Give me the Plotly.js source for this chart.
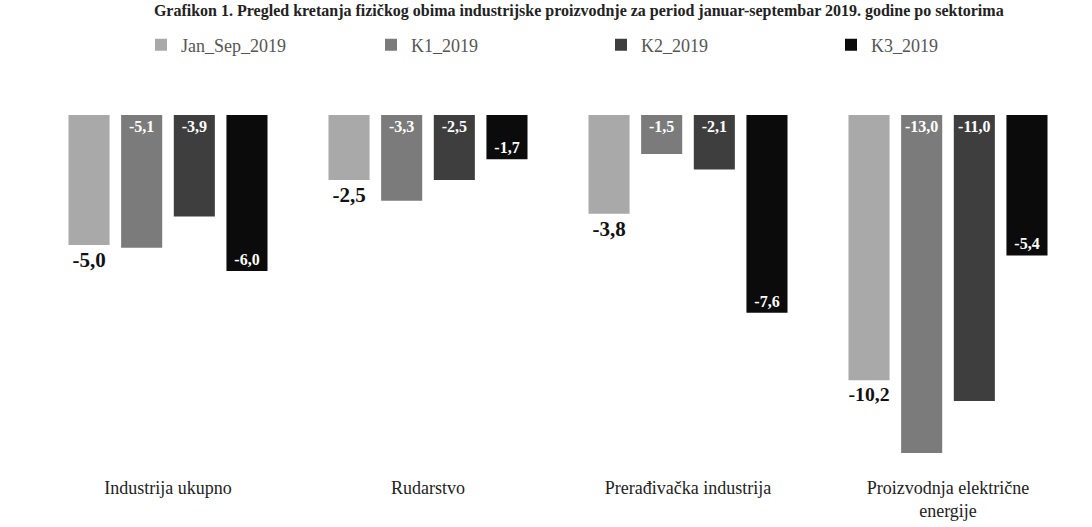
<!DOCTYPE html>
<html>
<head>
<meta charset="utf-8">
<script src="https://cdn.plot.ly/plotly-3.0.1.min.js"></script>
<style>html,body{margin:0;padding:0;background:#fff;}#chart{width:1092px;height:527px;}</style>
</head>
<body>
<div id="chart"></div>
<script>
const categories = ["Industrija ukupno", "Rudarstvo", "Prerađivačka industrija", "Proizvodnja električne<br>energije"];
const seriesNames = ["Jan_Sep_2019", "K1_2019", "K2_2019", "K3_2019"];
const janSep2019 = [-5.0, -2.5, -3.8, -10.2];
const k1_2019 = [-5.1, -3.3, -1.5, -13.0];
const k2_2019 = [-3.9, -2.5, -2.1, -11.0];
const k3_2019 = [-6.0, -1.7, -7.6, -5.4];
const titleText = "Grafikon 1. Pregled kretanja fizičkog obima industrijske proizvodnje za period januar-septembar 2019. godine po sektorima";

const serif = "Liberation Serif, Times New Roman, serif";
const colors = ["#a9a9a9", "#7b7b7b", "#3e3e3e", "#0b0b0b"];
const values = [janSep2019, k1_2019, k2_2019, k3_2019];
const textpos = ["outside", "inside", "inside", "inside"];
const anchors = ["end", "start", "start", "end"];
const textColors = ["#111", "#fff", "#fff", "#fff"];
const textSizes = [21, 16, 16, 16];

const traces = values.map((v, i) => ({
  type: "bar",
  name: seriesNames[i],
  x: categories,
  y: v,
  marker: {color: colors[i], line: {width: 0}},
  texttemplate: "%{y:.1f}",
  textposition: textpos[i],
  insidetextanchor: anchors[i],
  textangle: 0,
  cliponaxis: false,
  textfont: {family: serif, size: textSizes[i], color: textColors[i], weight: "bold"},
  hoverinfo: "x+y"
}));

const layout = {
  width: 1092, height: 527,
  paper_bgcolor: "#fff", plot_bgcolor: "#fff",
  separators: ",.",
  margin: {l: 38, r: 14, t: 115, b: 57, autoexpand: false},
  title: {text: "<b>" + titleText + "</b>", font: {family: serif, size: 16, color: "#222"},
          x: 0.53, xanchor: "center", yref: "container", y: 1 - 10 / 527, yanchor: "middle"},
  showlegend: true,
  legend: {orientation: "h", xref: "container", x: 141 / 1092, xanchor: "left",
           yref: "container", y: 1 - 45 / 527, yanchor: "middle",
           font: {family: serif, size: 18, color: "#555"}, itemwidth: 30,
           traceorder: "normal", entrywidth: 185},
  barmode: "group",
  bargap: 0.19,
  bargroupgap: 0.22,
  xaxis: {type: "category", showline: false, showgrid: false, zeroline: false, ticks: "",
          tickfont: {family: serif, size: 18, color: "#222"}, ticklabelstandoff: 5},
  yaxis: {range: [-13.65, 0], visible: false, showgrid: false, zeroline: false}
};

Plotly.newPlot("chart", traces, layout, {displayModeBar: false, staticPlot: true});
</script>
</body>
</html>
